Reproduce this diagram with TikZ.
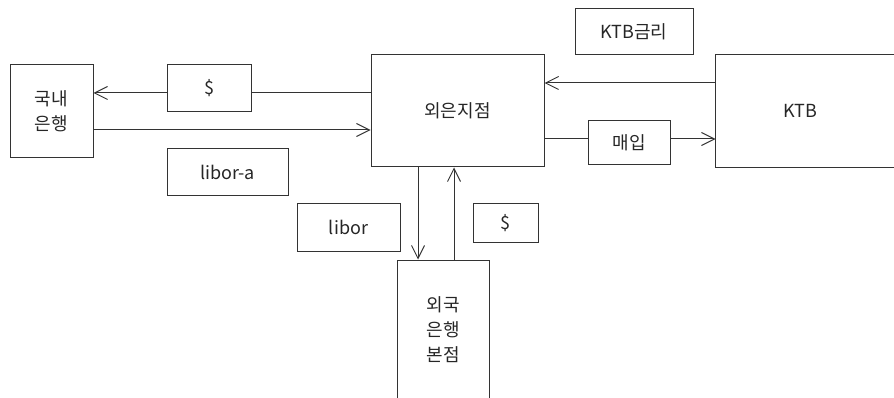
\documentclass[tikz,border=0pt]{standalone}
\usepackage{fontspec}
\setmainfont{Noto Sans CJK KR}
\usetikzlibrary{arrows.meta}
\definecolor{ln}{HTML}{333333}
\begin{document}
\begin{tikzpicture}[x=1pt,y=-1pt,
  box/.style={draw=ln,line width=1pt,inner sep=0pt,align=center,text=black!85,
    font=\fontsize{18}{25}\selectfont},
  arr/.style={draw=ln,line width=1pt,-{Straight Barb[length=13pt,width=13pt,line width=1pt]}},
  ln/.style={draw=ln,line width=1pt}]
\useasboundingbox (0,0) rectangle (894,398);
\clip (0,0) rectangle (894,398);
\node[box,minimum width=83pt,minimum height=93pt] (kuknae) at (51.5,111.5) {국내\\은행};
\node[box,minimum width=84pt,minimum height=47pt] (dollar1) at (209,88.5) {\$};
\node[box,minimum width=121pt,minimum height=47pt] (libora) at (227.5,172.5) {libor-a};
\node[box,minimum width=173pt,minimum height=112pt] (waeun) at (457.5,111) {외은지점};
\node[box,minimum width=118pt,minimum height=46pt] (ktbrate) at (634,32) {KTB금리};
\node[box,draw=none,minimum width=168pt,minimum height=112pt] (ktb) at (800,111) {KTB};
\draw[ln] (ktb.north west -| 900,0) -- (ktb.north west) -- (ktb.south west) -- (ktb.south west -| 900,0);
\node[box,minimum width=82pt,minimum height=44pt] (maeip) at (629,143) {매입};
\node[box,minimum width=103pt,minimum height=47pt] (libor) at (348.5,227.5) {libor};
\node[box,minimum width=65pt,minimum height=38pt] (dollar2) at (505.5,223) {\$};
\node[box,minimum width=92pt,minimum height=140pt] (hq) at (443,330) {외국\\은행\\본점};
% connectors
\draw[ln] (dollar1.east |- 0,93) -- (waeun.west |- 0,93);
\draw[arr] (dollar1.west |- 0,93) -- (kuknae.east |- 0,93);
\draw[arr] (kuknae.east |- 0,130) -- (waeun.west |- 0,130);
\draw[arr] (ktb.west |- 0,83) -- (waeun.east |- 0,83);
\draw[ln] (waeun.east |- 0,139) -- (maeip.west |- 0,139);
\draw[arr] (maeip.east |- 0,139) -- (ktb.west |- 0,139);
\draw[arr] (waeun.south -| 418,0) -- (hq.north -| 418,0);
\draw[arr] (hq.north -| 454,0) -- (waeun.south -| 454,0);
\end{tikzpicture}
\end{document}
